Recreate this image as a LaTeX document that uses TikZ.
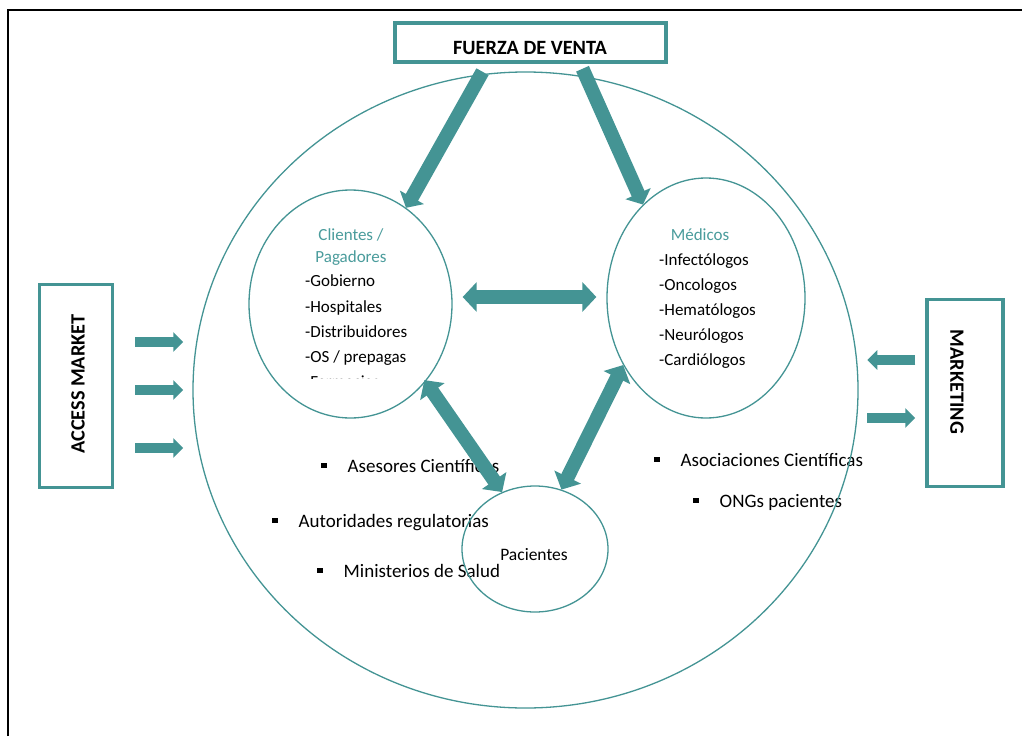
\documentclass[tikz,border=0pt]{standalone}
\usepackage{fontspec}
\setmainfont{Carlito}
\usetikzlibrary{arrows.meta,shapes.geometric}
\definecolor{tealA}{HTML}{449494}
\definecolor{tealT}{HTML}{4A9C9C}
\begin{document}
\begin{tikzpicture}[x=1pt,y=-1pt,
  box/.style={draw=tealA, line width=3.5pt, inner sep=0pt, fill=white},
  ring/.style={draw=tealA, line width=1.3pt, ellipse, inner sep=0pt},
  ltxt/.style={font=\fontsize{17}{20}\selectfont, inner sep=0pt, anchor=base west},
  ttl/.style={font=\fontsize{17}{20}\selectfont, text=tealT, inner sep=0pt, anchor=base},
  btxt/.style={font=\fontsize{19}{22}\selectfont, inner sep=0pt, anchor=base west},
  bold/.style={font=\bfseries\fontsize{20.3}{23}\selectfont, inner sep=0pt},
  bigarr/.style={draw=tealA, line width=14pt, -{Triangle[length=12pt,width=27pt]}},
  dblarr/.style={draw=tealA, line width=14pt, {Triangle[length=14pt,width=29pt]}-{Triangle[length=14pt,width=29pt]}},
  smarr/.style={draw=tealA, line width=10pt, -{Triangle[length=10pt,width=19pt]}},
  ]
\useasboundingbox (0,0) rectangle (1022,736);
\fill[white] (0,0) rectangle (1022,736);
% frame
\draw[line width=2pt] (8,736) -- (8,10) -- (1022,10);

% texts inside
\node[ttl] (cl1) at (351,240) {Clientes /};
\node[ttl] (cl2) at (351,262) {Pagadores};
\node[ltxt] (c1) at (305,286) {-Gobierno};
\node[ltxt] (c2) at (305,312) {-Hospitales};
\node[ltxt] (c3) at (305,337) {-Distribuidores};
\node[ltxt] (c4) at (305,362) {-OS / prepagas};
\begin{scope}
\clip (290,370) rectangle (420,378);
\node[ltxt] (c5) at (305,387) {-Farmacias};
\end{scope}

\node[ttl] (m0) at (700,240) {Médicos};
\node[ltxt] (m1) at (659,265) {-Infectólogos};
\node[ltxt] (m2) at (659,290) {-Oncologos};
\node[ltxt] (m3) at (659,315) {-Hematólogos};
\node[ltxt] (m4) at (659,340) {-Neurólogos};
\node[ltxt] (m5) at (659,365) {-Cardiólogos};

\node[font=\fontsize{17.5}{20}\selectfont, inner sep=0pt, anchor=base] (pt) at (534,560) {Pacientes};

\newcommand{\bul}{\rule[4pt]{5.5pt}{5.5pt}\hspace{21pt}}
\node[btxt] (b1) at (321,472) {\bul Asesores Científicas};
\node[btxt] (b2) at (272,527) {\bul Autoridades regulatorias};
\node[btxt] (b3) at (317,577) {\bul Ministerios de Salud};
\node[btxt] (b4) at (654,466) {\bul Asociaciones Científicas};
\node[btxt] (b5) at (693,507) {\bul ONGs pacientes};

% ellipses
\node[ring, minimum width=665pt, minimum height=636pt] (outer) at (525.5,390) {};
\node[ring, minimum width=203pt, minimum height=228pt] (cli) at (350.5,304) {};
\node[ring, minimum width=198pt, minimum height=240pt] (med) at (706,298) {};
\node[ring, minimum width=146pt, minimum height=126pt] (pac) at (535,549) {};

% boxes
\node[box, minimum width=271pt, minimum height=39pt] (fv) at (530.5,42.5) {};
\node[bold, anchor=base] (fvt) at (530,54) {FUERZA DE VENTA};
\node[box, minimum width=73pt, minimum height=203pt] (am) at (76,386) {};
\node[bold, rotate=90] (amt) at (78,384) {ACCESS MARKET};
\node[box, minimum width=76pt, minimum height=187pt] (mk) at (965,393) {};
\node[bold, rotate=-90] (mkt) at (957,382) {MARKETING};

% big arrows
\draw[bigarr] ([xshift=-48pt,yshift=-8pt]fv.south) -- (cli.60);
\draw[bigarr] ([xshift=52pt,yshift=-5pt]fv.south) -- (med.124);
\draw[dblarr, shorten <=10pt, shorten >=10pt] ([yshift=7pt]cli.east) -- ([yshift=1pt]med.west);
\draw[dblarr, shorten <=-2pt] (cli.-46) -- (pac.120);
\draw[dblarr] (pac.66) -- (med.219);

% small arrows
\draw[smarr] ([xshift=21pt,yshift=44pt]am.east) -- ([xshift=69pt,yshift=44pt]am.east);
\draw[smarr] ([xshift=21pt,yshift=-4pt]am.east) -- ([xshift=69pt,yshift=-4pt]am.east);
\draw[smarr] ([xshift=21pt,yshift=-62pt]am.east) -- ([xshift=69pt,yshift=-62pt]am.east);
\draw[smarr] ([xshift=-10pt,yshift=33pt]mk.west) -- ([xshift=-58pt,yshift=33pt]mk.west);
\draw[smarr] ([xshift=-58pt,yshift=-25pt]mk.west) -- ([xshift=-10pt,yshift=-25pt]mk.west);
\end{tikzpicture}
\end{document}
